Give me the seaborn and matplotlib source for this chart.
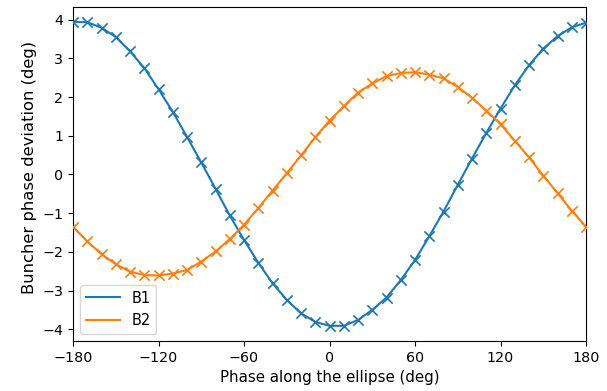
import numpy as np
import pandas as pd
import matplotlib
matplotlib.use("Agg")
import matplotlib.pyplot as plt
import seaborn as sns

phase = list(range(-180, 181, 10))
b1 = [3.94, 3.93, 3.79, 3.55, 3.18, 2.75, 2.20, 1.62, 0.97, 0.31,
      -0.37, -1.06, -1.69, -2.28, -2.81, -3.24, -3.59, -3.81, -3.91,
      -3.91, -3.76, -3.50, -3.18, -2.73, -2.21, -1.60, -0.96, -0.27,
      0.41, 1.07, 1.70, 2.30, 2.82, 3.25, 3.57, 3.80, 3.92]
b2 = [-1.35, -1.73, -2.06, -2.32, -2.51, -2.60, -2.61, -2.56, -2.47, -2.25,
      -1.99, -1.67, -1.30, -0.87, -0.42, 0.03, 0.49, 0.96, 1.39,
      1.76, 2.11, 2.35, 2.54, 2.62, 2.64, 2.58, 2.48, 2.26,
      1.98, 1.65, 1.30, 0.87, 0.44, -0.03, -0.48, -0.94, -1.35]
series_names = ["B1", "B2"]
xticks = [-180, -120, -60, 0, 60, 120, 180]

df = pd.DataFrame({
    "phase": phase * 2,
    "dev": b1 + b2,
    "buncher": [series_names[0]] * len(phase) + [series_names[1]] * len(phase),
})

colors = ["#1f77b4", "#ff7f0e"]

fig = plt.figure(figsize=(6.07, 3.91), dpi=100)
ax = fig.add_axes([73 / 607, 1 - 341 / 391, (586 - 73) / 607, (341 - 6.7) / 391])

sns.lineplot(data=df, x="phase", y="dev", hue="buncher", palette=colors,
             linewidth=1.5, ax=ax)
for name, c in zip(series_names, colors):
    sub = df[df["buncher"] == name]
    sns.scatterplot(data=sub, x="phase", y="dev", marker="x", color=c,
                    s=55, linewidth=1.2, legend=False, ax=ax, zorder=3)

ax.set_xlim(-180, 180)
ax.set_xticks(xticks)
ax.tick_params(labelsize=10.3)
ax.set_xlabel("Phase along the ellipse (deg)", fontsize=10.8)
ax.set_ylabel("Buncher phase deviation (deg)", fontsize=11.8)
ax.yaxis.label.set_y(0.52)
ax.legend(loc="lower left", fontsize=10.5, handlelength=2.3)

fig.savefig("out.png", dpi=100)
